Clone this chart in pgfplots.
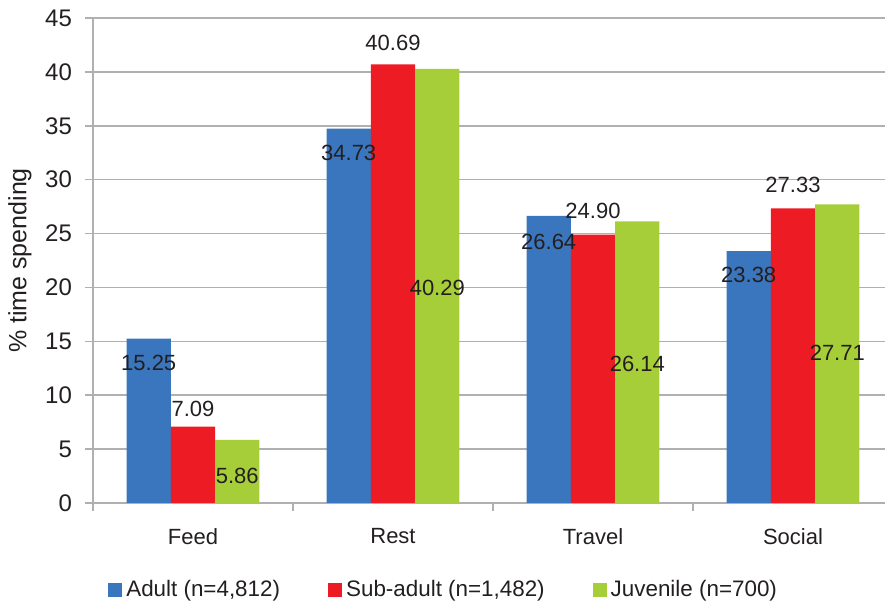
\documentclass[border=0pt]{standalone}
\usepackage{pgfplots}
\pgfplotsset{compat=1.18}
\usepackage{pgfplotstable}
\usepackage{fontspec}
\setmainfont{Liberation Sans}
\definecolor{cblue}{HTML}{3A76BD}
\definecolor{cred}{HTML}{ED1C24}
\definecolor{cgreen}{HTML}{A6CE39}
\definecolor{cgrid}{HTML}{B0B0B0}
\definecolor{ctext}{HTML}{231F20}

\pgfplotstableread{
x y dy
0 15.25 -2.26
1 34.73 -2.26
2 26.64 -2.45
3 23.38 -2.23
}\adult
\pgfplotstableread{
x y dy
0 7.09 1.6
1 40.69 2.0
2 24.90 2.23
3 27.33 2.15
}\subadult
\pgfplotstableread{
x y dy
0 5.86 -3.35
1 40.29 -20.35
2 26.14 -13.2
3 27.71 -13.8
}\juvenile

\begin{document}
\begin{tikzpicture}[font=\fontsize{11}{13}\selectfont, text=ctext]
\path[use as bounding box] (-46.5pt,-51pt) rectangle (396pt,251.5pt);
\begin{axis}[
  at={(0,0)}, anchor=south west,
  scale only axis, width=396pt, height=242.5pt,
  xmin=-0.5, xmax=3.46, ymin=0, ymax=45,
  ybar=0pt, bar width=22.15pt,
  /pgf/number format/assume math mode=true,
  axis x line*=bottom, axis y line*=left,
  axis line style={cgrid, line width=0.8pt},
  ytick={0,5,...,45},
  ymajorgrids, grid style={cgrid, line width=0.8pt},
  tick style={cgrid, line width=0.8pt},
  tick align=outside, major tick length=4pt,
  xtick={-0.5,0.5,1.5,2.5}, xticklabels={},
  extra x ticks={0,1,2,3},
  extra x tick labels={Feed,Rest,Travel,Social},
  extra x tick style={major tick length=0pt, grid=none,
    tick label style={yshift=-9pt}},
  yticklabel style={xshift=-3pt, font=\fontsize{12}{14}\selectfont},
  every axis y label/.style={at={(axis description cs:-0.0922,0.5)}, rotate=90, anchor=center, font=\fontsize{12.5}{14}\selectfont},
  ylabel={\% time spending},
  nodes near coords={\pgfmathprintnumber[fixed,fixed zerofill,precision=2]{\pgfplotspointmeta}},
  visualization depends on={\thisrow{dy} \as \dy},
  nodes near coords style={anchor=center, yshift=5.389pt*\dy, text=ctext, font=\fontsize{11}{13}\selectfont},
  legend style={at={(0.444,-0.179)}, anchor=center, draw=none, legend columns=3,
    /tikz/every even column/.append style={column sep=22pt}, font=\fontsize{11.2}{13}\selectfont},
  legend image code/.code={\fill[#1] (0pt,-3.5pt) rectangle (7pt,3.5pt);},
]
\addplot[fill=cblue, draw=none] table[x=x,y=y] {\adult};
\addplot[fill=cred, draw=none] table[x=x,y=y] {\subadult};
\addplot[fill=cgreen, draw=none] table[x=x,y=y] {\juvenile};
\legend{{Adult (n=4,812)}, {Sub-adult (n=1,482)}, {Juvenile (n=700)}}
\end{axis}
\end{tikzpicture}
\end{document}
